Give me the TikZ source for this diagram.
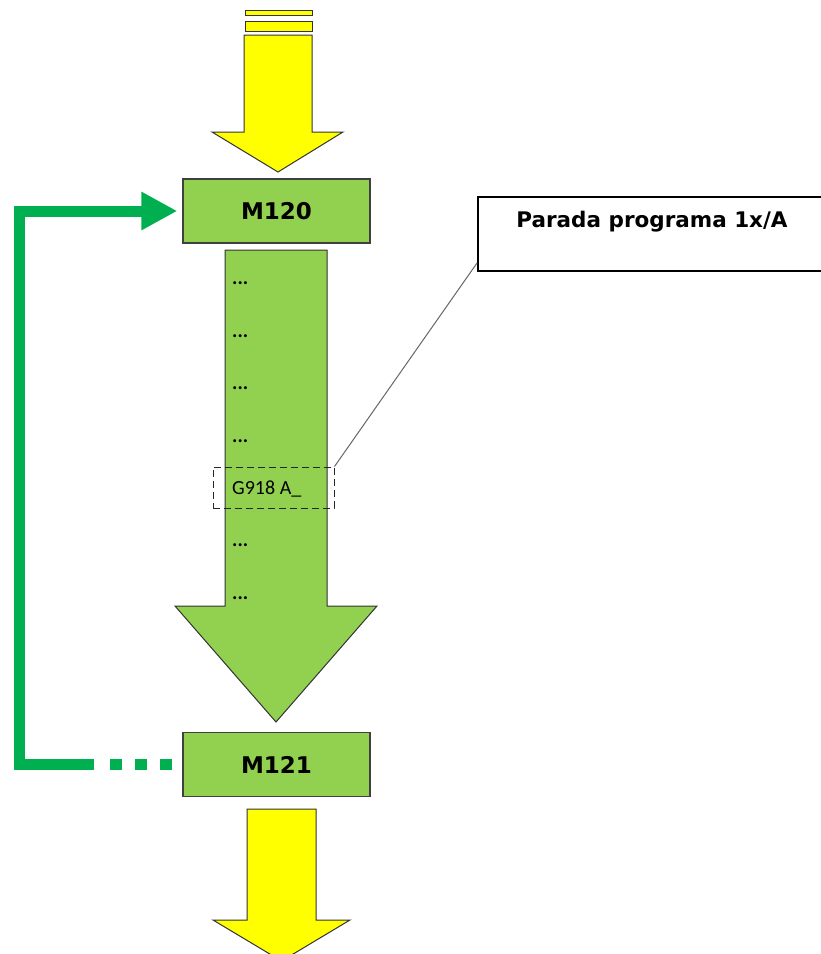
\documentclass[tikz,border=0pt]{standalone}
\usepackage{fontspec}
\setmainfont{DejaVu Sans}
\newfontfamily\calib{Carlito}
\usetikzlibrary{arrows.meta}
\definecolor{mgreen}{HTML}{92D050}
\definecolor{lgreen}{HTML}{00B050}
\definecolor{myellow}{HTML}{FFFF00}
\begin{document}
\begin{tikzpicture}[x=1pt, y=-1pt,
      mbox/.style={draw=black!75, line width=1.3pt, fill=mgreen, minimum width=187pt,
        minimum height=64pt, inner sep=0pt, font=\fontsize{23}{25}\selectfont\bfseries},
      yarrow/.style={draw=black!80, line width=1pt, fill=myellow},
      garrow/.style={draw=black!80, line width=1pt, fill=mgreen},
      dots/.style={anchor=west, inner sep=0pt, font=\calib\fontsize{20}{22}\selectfont},
      tagbox/.style={draw=black!85, line width=1pt, dash pattern=on 7pt off 4pt,
        minimum width=121pt, minimum height=41pt, inner sep=0pt},
      notebox/.style={draw=black, line width=1.8pt, fill=white, minimum width=348pt,
        minimum height=74pt, inner sep=0pt},
      loopline/.style={lgreen, line width=11pt}]

    \clip (0,0) rectangle (821,954);
    \useasboundingbox (0,0) rectangle (821,954);

    % incoming arrow
    \draw[yarrow] (245,10) rectangle (312,15);
    \draw[yarrow] (245,21) rectangle (312,31);
    \draw[yarrow] (244,35) -- (312,35) -- (312,132) -- (343,132) -- (278,172)
      -- (212,132) -- (244,132) -- cycle;

    % program body
    \draw[garrow] (225,250) -- (327,250) -- (327,606) -- (377,606) -- (276,722)
      -- (175,606) -- (225,606) -- cycle;

    \node[mbox] (m120) at (276.5,211) {M120};
    \node[mbox] (m121) at (276.5,764.5) {M121};

    \foreach \y [count=\i] in {283,336,388,441,545,598}
      \node[dots] (d\i) at (232,\y) {\textbf{...}};

    \node[tagbox] (tag) at (273.5,487.5) {};
    \node[dots] (g918) at (232,489) {G918 A\_};

    % note
    \node[notebox] (note) at (652,234) {};
    \node[font=\fontsize{21.5}{24}\selectfont\bfseries] (notetxt) at (652,222) {Parada programa 1x/A};
    \draw[black!60, line width=1pt] (tag.north east) -- ([yshift=9pt]note.south west);

    % outgoing arrow
    \draw[yarrow] (247,809) -- (316,809) -- (316,920) -- (350,920) -- (281.5,961)
      -- (213,920) -- (247,920) -- cycle;

    % loop back
    \coordinate (lt) at (m120.west -| 19,0);
    \coordinate (lb) at (m121.west -| 19,0);
    \draw[loopline, line cap=butt, dash pattern=on 12pt off 13pt]
      ([xshift=-10pt]m121.west) -- ++(-62,0);
    \draw[loopline, line join=miter, -{Triangle[length=36pt,width=36pt]}, shorten >=5pt]
      ([xshift=-88pt]m121.west) -- (lb) -- (lt) -- (m120.west);
  \end{tikzpicture}
\end{document}
